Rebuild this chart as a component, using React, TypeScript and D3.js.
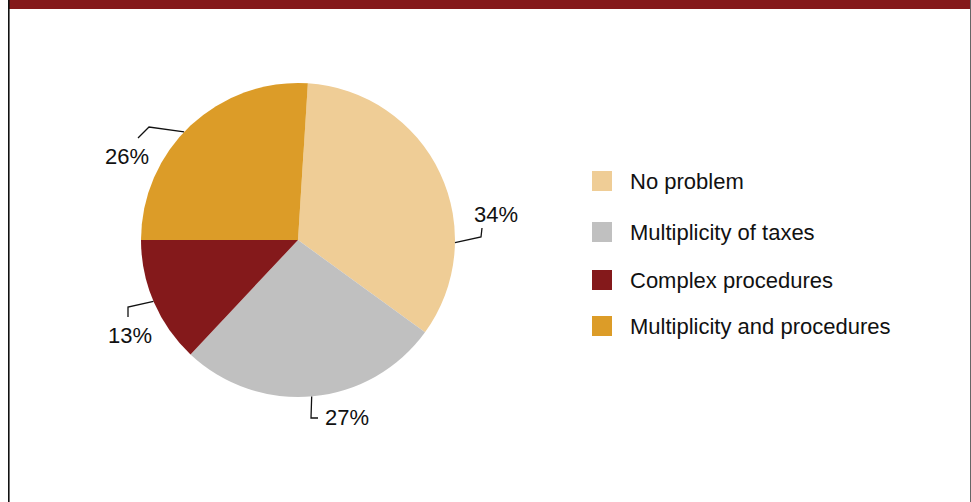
import React from "react";
import * as d3 from "d3";

const categories = ["No problem", "Multiplicity of taxes", "Complex procedures", "Multiplicity and procedures"];
const values = [34, 27, 13, 26];
const colors = ["#EFCD96", "#C0C0C0", "#84191B", "#DC9C28"];
const valueLabels = values.map((v) => `${v}%`);

const W = 971;
const H = 502;
const cx = 298;
const cy = 240;
const R = 157;
const startDeg = 3.6;
const FONT = "'Liberation Sans', Arial, sans-serif";
const legendRowY = [181, 232, 280, 326];

// leader line layout per slice: angle on pie edge (deg, clockwise from north), elbow, end, text pos
const leaderLayout = [
  { angle: 91, elbow: [481, 237], end: [482, 228], text: [496, 222] },
  { angle: 175, elbow: [311, 418], end: [318, 418], text: [347, 425] },
  { angle: 247, elbow: [128, 307], end: [128, 317], text: [130, 343] },
  { angle: 313.5, elbow: [149, 127], end: [138, 138], text: [127, 164] },
];

export default function App() {
  const start = (startDeg * Math.PI) / 180;
  const pie = d3.pie<number>().sort(null).startAngle(start).endAngle(start + 2 * Math.PI);
  const arcs = pie(values);
  const arc = d3.arc<d3.PieArcDatum<number>>().innerRadius(0).outerRadius(R);

  return (
    <svg width={W} height={H} style={{ position: "absolute", left: 0, top: 0, background: "#fff" }}>
      <rect x={9} y={0} width={961} height={9} fill="#84191B" />
      <line x1={8.8} y1={0} x2={8.8} y2={H} stroke="#111" strokeWidth={1.6} />
      <line x1={970.5} y1={0} x2={970.5} y2={H} stroke="#666" strokeWidth={1} />
      <g transform={`translate(${cx},${cy})`}>
        {arcs.map((a, i) => (
          <path key={i} d={arc(a) || ""} fill={colors[i]} />
        ))}
      </g>
      {leaderLayout.map((l, i) => {
        const t = (l.angle * Math.PI) / 180;
        const sx = cx + R * Math.sin(t);
        const sy = cy - R * Math.cos(t);
        return (
          <g key={i}>
            <polyline
              points={`${sx},${sy} ${l.elbow[0]},${l.elbow[1]} ${l.end[0]},${l.end[1]}`}
              fill="none"
              stroke="#111"
              strokeWidth={1.3}
            />
            <text x={l.text[0]} y={l.text[1]} textAnchor="middle" fontFamily={FONT} fontSize={22} fill="#111">
              {valueLabels[i]}
            </text>
          </g>
        );
      })}
      {categories.map((c, i) => {
        const y = legendRowY[i];
        return (
          <g key={c}>
            <rect x={592} y={y - 10} width={20} height={20} fill={colors[i]} />
            <text x={630} y={y} dy="0.38em" fontFamily={FONT} fontSize={22} fill="#111">
              {c}
            </text>
          </g>
        );
      })}
    </svg>
  );
}
